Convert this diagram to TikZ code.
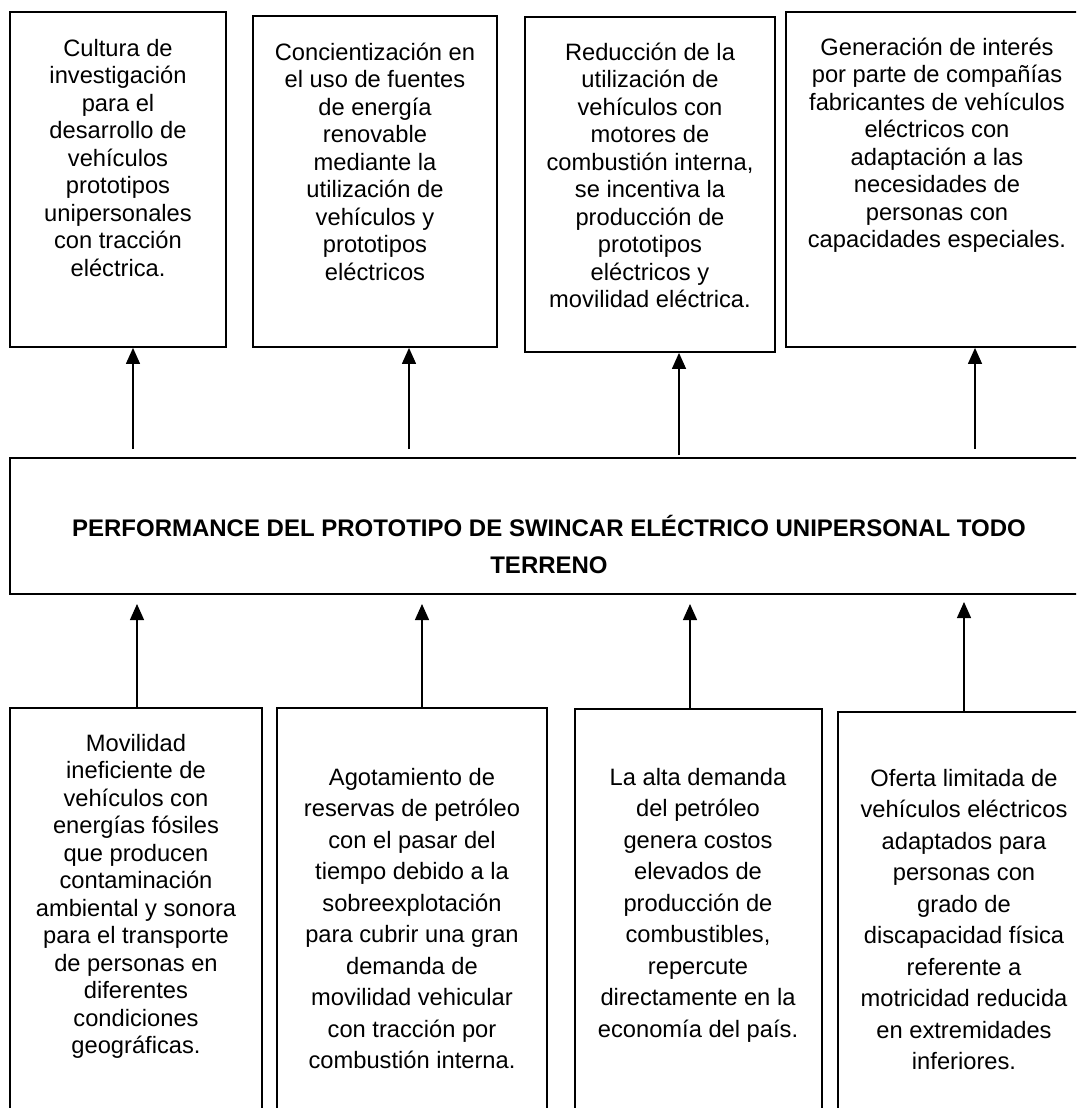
\documentclass[tikz,border=0pt]{standalone}
\usepackage{fontspec}
\setmainfont{Liberation Sans}
\usetikzlibrary{arrows.meta,calc}
\newcommand{\fl}{\rule{0pt}{22pt}}
\begin{document}
\begin{tikzpicture}[x=1pt,y=-1pt,
  box/.style={draw=black, line width=1.8pt, rectangle, inner sep=0pt},
  txt/.style={font=\fontsize{23.7}{27.5}\selectfont, align=center, anchor=north, inner sep=0pt},
  txtwide/.style={txt, font=\fontsize{23.7}{31.5}\selectfont},
  ctxt/.style={font=\fontsize{24}{37}\selectfont\bfseries, align=center, anchor=north, inner sep=0pt},
  arr/.style={line width=1.3pt, -{Triangle[width=14pt,length=16pt]}},
]
\clip (0,0) rectangle (1076,1108);
\fill[white] (0,0) rectangle (1076,1108);

% top boxes
\node[box, minimum width=216, minimum height=335] (t1) at (118,179.5) {};
\node[box, minimum width=244, minimum height=331] (t2) at (375,181.5) {};
\node[box, minimum width=250, minimum height=335] (t3) at (650,184.5) {};
\node[box, minimum width=302, minimum height=335] (t4) at (937,179.5) {};

\node[txt] (t1t) at (118,34) {\fl Cultura de\\investigación\\para el\\desarrollo de\\vehículos\\prototipos\\unipersonales\\con tracción\\eléctrica.};
\node[txt] (t2t) at (375,38) {\fl Concientización en\\el uso de fuentes\\de energía\\renovable\\mediante la\\utilización de\\vehículos y\\prototipos\\eléctricos};
\node[txt] (t3t) at (650,38) {\fl Reducción de la\\utilización de\\vehículos con\\motores de\\combustión interna,\\se incentiva la\\producción de\\prototipos\\eléctricos y\\movilidad eléctrica.};
\node[txt] (t4t) at (937,33) {\fl Generación de interés\\por parte de compañías\\fabricantes de vehículos\\eléctricos con\\adaptación a las\\necesidades de\\personas con\\capacidades especiales.};

% central box
\node[box, minimum width=1078, minimum height=136] (c) at (549,526) {};
\node[ctxt] (ct) at (549,514) {\fl PERFORMANCE DEL PROTOTIPO DE SWINCAR ELÉCTRICO UNIPERSONAL TODO\\TERRENO};

% bottom boxes
\node[box, minimum width=252, minimum height=442] (b1) at (136,929) {};
\node[box, minimum width=270, minimum height=442] (b2) at (412,929) {};
\node[box, minimum width=247, minimum height=442] (b3) at (698.5,930) {};
\node[box, minimum width=252, minimum height=442] (b4) at (964,933) {};

\node[txt] (b1t) at (136,729) {\fl Movilidad\\ineficiente de\\vehículos con\\energías fósiles\\que producen\\contaminación\\ambiental y sonora\\para el transporte\\de personas en\\diferentes\\condiciones\\geográficas.};
\node[txtwide] (b2t) at (412,763) {\fl Agotamiento de\\reservas de petróleo\\con el pasar del\\tiempo debido a la\\sobreexplotación\\para cubrir una gran\\demanda de\\movilidad vehicular\\con tracción por\\combustión interna.};
\node[txtwide] (b3t) at (698,763) {\fl La alta demanda\\del petróleo\\genera costos\\elevados de\\producción de\\combustibles,\\repercute\\directamente en la\\economía del país.};
\node[txtwide] (b4t) at (964,764) {\fl Oferta limitada de\\vehículos eléctricos\\adaptados para\\personas con\\grado de\\discapacidad física\\referente a\\motricidad reducida\\en extremidades\\inferiores.};

% arrow free ends
\coordinate (a1) at (133,449);
\coordinate (a2) at (409,449);
\coordinate (a3) at (679,455);
\coordinate (a4) at (975,449);
\coordinate (p1) at (137,604);
\coordinate (p2) at (422,604);
\coordinate (p3) at (690,604);
\coordinate (p4) at (964,602);

\draw[arr] (a1) -- (a1 |- t1.south);
\draw[arr] (a2) -- (a2 |- t2.south);
\draw[arr] (a3) -- (a3 |- t3.south);
\draw[arr] (a4) -- (a4 |- t4.south);

\draw[arr] (p1 |- b1.north) -- (p1);
\draw[arr] (p2 |- b2.north) -- (p2);
\draw[arr] (p3 |- b3.north) -- (p3);
\draw[arr] (p4 |- b4.north) -- (p4);
\end{tikzpicture}
\end{document}
